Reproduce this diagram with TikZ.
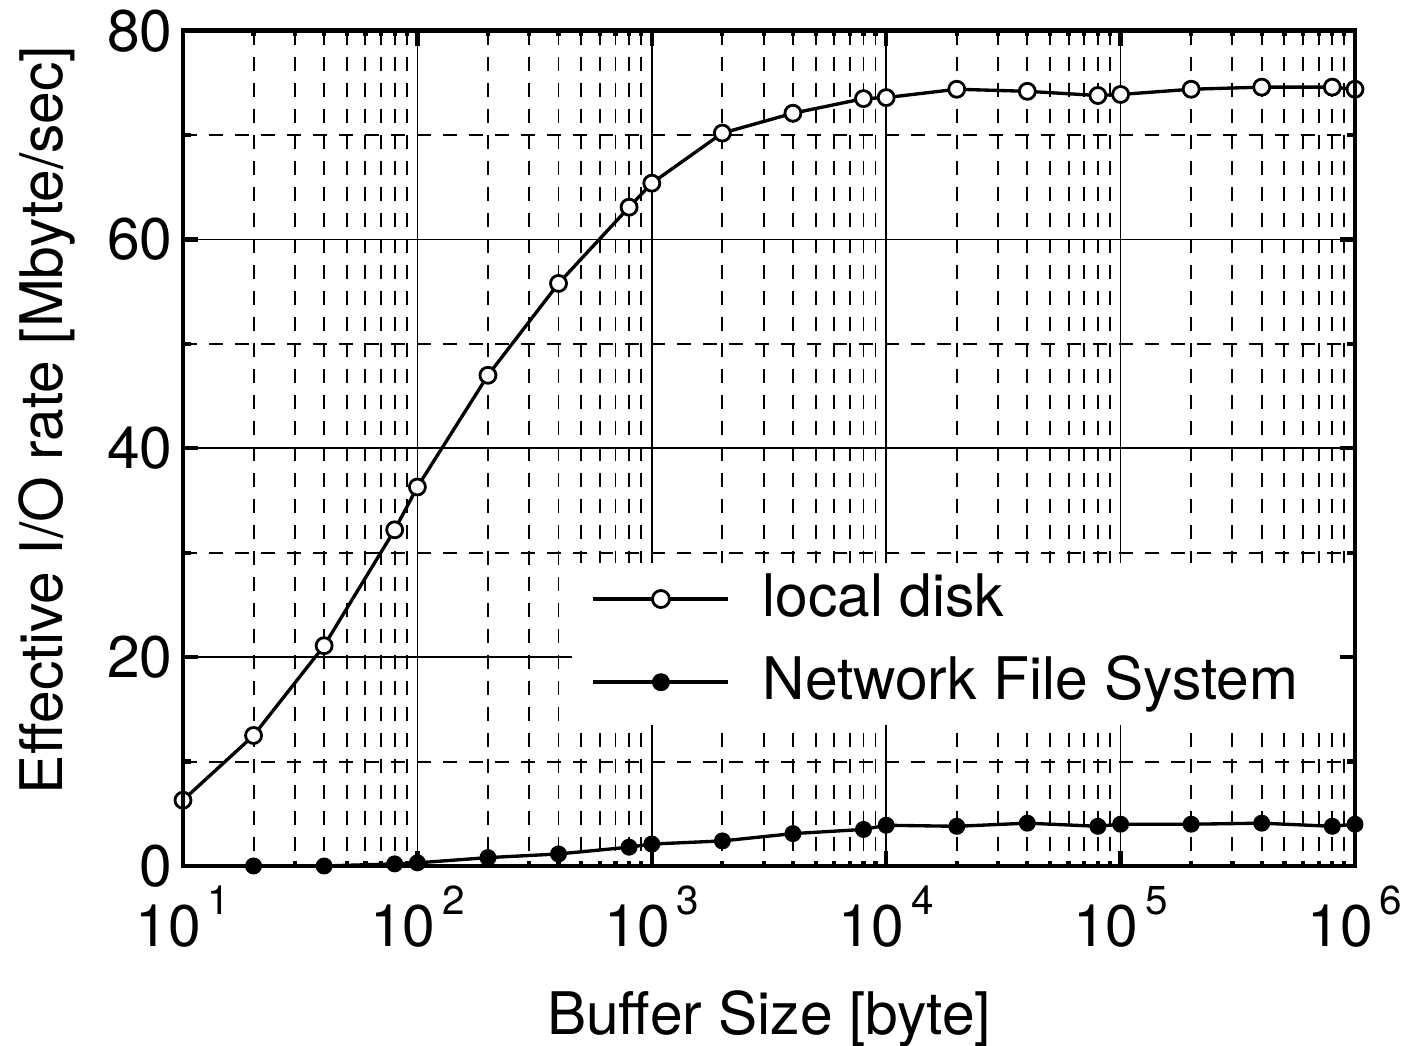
\documentclass[tikz,border=0pt]{standalone}
\usepackage{fontspec}
\setmainfont{TeX Gyre Heros}
\newcommand{\labfont}{\fontsize{16.7}{20}\selectfont}
\newcommand{\expfont}{\fontsize{11.5}{13}\selectfont}
\newcommand{\pw}[2]{#1\hspace{0.07cm}\raisebox{0.32cm}{\expfont #2}}
\begin{document}
\begin{tikzpicture}[
  gridline/.style={line width=0.5pt},
  griddash/.style={line width=0.55pt, dash pattern=on 0.14cm off 0.12cm},
  frameline/.style={line width=1.4pt},
  tickline/.style={line width=1.2pt},
  curve/.style={line width=0.95pt, line join=round},
  keyline/.style={line width=1.15pt},
  openmark/.style={circle, draw, fill=white, line width=0.8pt, minimum size=0.16cm, inner sep=0pt},
  fullmark/.style={circle, fill=black, minimum size=0.17cm, inner sep=0pt},
  lab/.style={font=\labfont, inner sep=0pt}
]
\useasboundingbox (0,0) rectangle (14.02,10.46);
\fill[white] (0,0) rectangle (14.02,10.46);

% plotting area: x = log10(buffer size) - 1, y = rate in Mbyte/sec
\begin{scope}[shift={(1.83,1.80)}, x=2.344cm, y=0.1044cm]
  % minor vertical grid
  \foreach \d in {0,...,4}
    \foreach \k in {2,...,9}
      \draw[griddash] ({\d+log10(\k)},80) -- ({\d+log10(\k)},0);
  % decade grid
  \foreach \d in {1,...,4}
    \draw[gridline] (\d,0) -- (\d,80);
  % horizontal grid
  \foreach \v in {20,40,60}
    \draw[gridline] (0,\v) -- (5,\v);
  \foreach \v in {10,30,50,70}
    \draw[griddash] (0,\v) -- (5,\v);

  % legend background
  \fill[white] (1.66,13.5) rectangle (4.99,29.05);

  % local disk
  \draw[curve] (0,6.3) -- (0.30103,12.5) -- (0.60206,21.1) -- (0.90309,32.2)
    -- (1,36.3) -- (1.30103,47.0) -- (1.60206,55.8) -- (1.90309,63.1)
    -- (2,65.4) -- (2.30103,70.2) -- (2.60206,72.1) -- (2.90309,73.5)
    -- (3,73.6) -- (3.30103,74.4) -- (3.60206,74.2) -- (3.90309,73.8)
    -- (4,73.9) -- (4.30103,74.4) -- (4.60206,74.6) -- (4.90309,74.6)
    -- (5,74.4);
  % Network File System
  \draw[curve] (0.30103,0) -- (0.60206,0) -- (0.90309,0.2)
    -- (1,0.3) -- (1.30103,0.8) -- (1.60206,1.15) -- (1.90309,1.8)
    -- (2,2.1) -- (2.30103,2.4) -- (2.60206,3.1) -- (2.90309,3.5)
    -- (3,3.9) -- (3.30103,3.8) -- (3.60206,4.1) -- (3.90309,3.8)
    -- (4,4.0) -- (4.30103,4.0) -- (4.60206,4.1) -- (4.90309,3.8)
    -- (5,4.0);

  \foreach \px/\py [count=\i] in {0/6.3, 0.30103/12.5, 0.60206/21.1, 0.90309/32.2,
      1/36.3, 1.30103/47.0, 1.60206/55.8, 1.90309/63.1,
      2/65.4, 2.30103/70.2, 2.60206/72.1, 2.90309/73.5,
      3/73.6, 3.30103/74.4, 3.60206/74.2, 3.90309/73.8,
      4/73.9, 4.30103/74.4, 4.60206/74.6, 4.90309/74.6, 5/74.4}
    \node[openmark] (ld\i) at (\px,\py) {};
  \foreach \px/\py [count=\i] in {0.30103/0, 0.60206/0, 0.90309/0.2,
      1/0.3, 1.30103/0.8, 1.60206/1.15, 1.90309/1.8,
      2/2.1, 2.30103/2.4, 2.60206/3.1, 2.90309/3.5,
      3/3.9, 3.30103/3.8, 3.60206/4.1, 3.90309/3.8,
      4/4.0, 4.30103/4.0, 4.60206/4.1, 4.90309/3.8, 5/4.0}
    \node[fullmark] (nfs\i) at (\px,\py) {};

  % frame and ticks
  \foreach \d in {0,...,4}
    \foreach \k in {2,...,9} {
      \draw[tickline] ({\d+log10(\k)},0) -- ++(0,0.5);
      \draw[tickline] ({\d+log10(\k)},80) -- ++(0,-0.5);
    }
  \foreach \d in {1,...,4} {
    \draw[tickline] (\d,0) -- ++(0,1.45);
    \draw[tickline] (\d,80) -- ++(0,-1.45);
  }
  \foreach \v in {10,30,50,70} {
    \draw[tickline] (0,\v) -- ++(0.034,0);
    \draw[tickline] (5,\v) -- ++(-0.034,0);
  }
  \foreach \v in {20,40,60} {
    \draw[tickline] (0,\v) -- ++(0.064,0);
    \draw[tickline] (5,\v) -- ++(-0.064,0);
  }
  \draw[frameline] (0,0) rectangle (5,80);

  % tick labels
  \foreach \v in {0,20,40,60,80}
    \node[lab, anchor=east] (yl\v) at ([xshift=-0.1cm]0,\v) {\v};
  \foreach \d/\e in {0/1,1/2,2/3,3/4,4/5,5/6}
    \node[lab, anchor=base] (xl\e) at ([yshift=-0.81cm]\d,0) {\pw{10}{\e}};

  % legend entries
  \coordinate (keyldA) at (1.749,25.57);
  \coordinate (keyldB) at (2.325,25.57);
  \draw[keyline] (keyldA) -- (keyldB);
  \node[openmark, minimum size=0.17cm] (keyld) at (2.039,25.57) {};
  \coordinate (keynfsA) at (1.749,17.6);
  \coordinate (keynfsB) at (2.325,17.6);
  \draw[keyline] (keynfsA) -- (keynfsB);
  \node[fullmark, minimum size=0.18cm] (keynfs) at (2.039,17.6) {};
\end{scope}

\node[lab, anchor=base west] (legld) at (7.62,4.29) {local disk};
\node[lab, anchor=base west] (legnfs) at (7.62,3.46) {Network File System};

% axis titles
\node[lab, anchor=base] (xtitle) at (7.69,0.11) {Buffer Size [byte]};
\node[lab, rotate=90, anchor=base] (ytitle) at (0.62,6.26) {Effective I/O rate [Mbyte/sec]};
\end{tikzpicture}
\end{document}
